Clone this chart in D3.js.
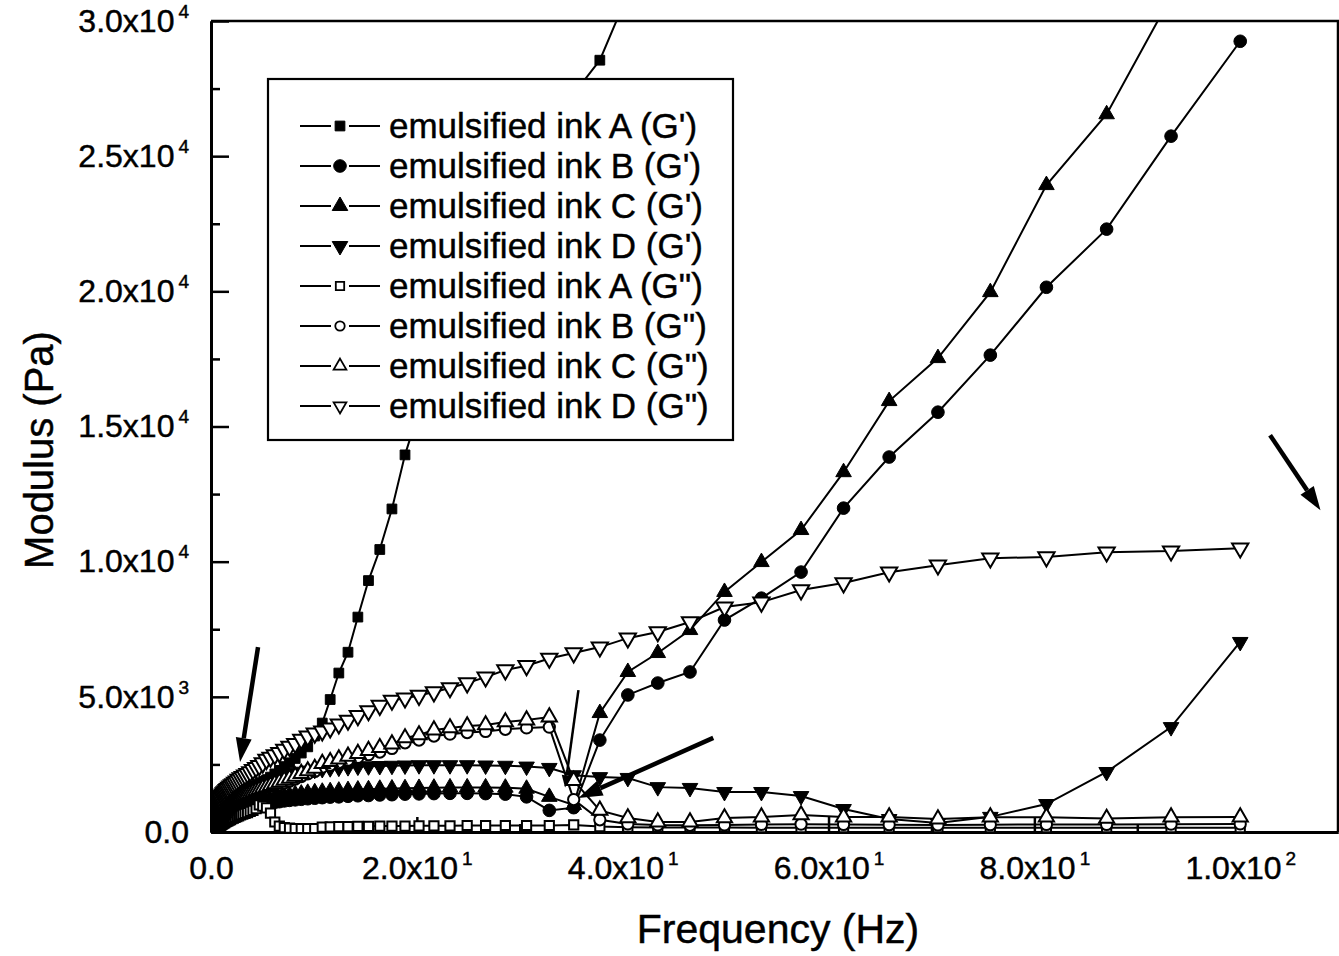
<!DOCTYPE html>
<html>
<head>
<meta charset="utf-8">
<script src="https://cdn.jsdelivr.net/npm/d3@7"></script>
<style>
  body { margin: 0; background: #fff; }
  svg text { font-family: "Liberation Sans", Arial, sans-serif; fill: #000; stroke: #000; stroke-width: 0.45px; }
</style>
</head>
<body>
<div class="chart"></div>
<script>
// sweep frequencies (Hz)
var freq = [0.443, 0.475, 0.509, 0.545, 0.585, 0.627,
    0.672, 0.720, 0.772, 0.828, 0.887, 0.951, 1.02, 1.09, 1.17, 1.25,
    1.34, 1.44, 1.54, 1.65, 1.77, 1.90, 2.04, 2.18, 2.34, 2.51,
    2.69, 2.88, 3.09, 3.31, 3.55, 3.81, 4.08, 4.38, 4.69, 5.03,
    5.39, 5.78, 6.20, 6.64, 7.12, 7.63, 8.18, 8.77, 9.40, 10.08,
    10.81, 11.58, 12.42, 13.31, 14.27, 15.30, 16.40, 17.58, 18.85, 20.21,
    21.66, 23.22, 24.89, 26.68, 28.60, 30.66, 32.87, 35.24, 37.78, 40.50,
    43.41, 46.54, 49.89, 53.48, 57.33, 61.46, 65.89, 70.63, 75.72, 81.17, 87.02, 93.28, 100];

// storage modulus G' (Pa)
var inkA_G1 = [240, 250, 260, 270, 280, 290,
    300, 320, 340, 360, 380, 400, 430, 460, 490, 520,
    550, 590, 630, 670, 720, 770, 820, 870, 930, 990,
    1050, 1110, 1180, 1250, 1330, 1410, 1500, 1600, 1700, 1810,
    1920, 2030, 2150, 2280, 2420, 2560, 2720, 2920, 3150, 3550,
    4030, 4900, 5880, 6650, 7950, 9300, 10450, 11950, 13950, 15600,
    17100, 18500, 19900, 21200, 22500, 23800, 25300, 27300, 28550, 31000,
    34000, null, null, null, null, null, null, null, null, null, null, null, null];
var inkB_G1 = [170, 180, 195, 210, 225, 235,
    250, 270, 290, 310, 330, 350, 380, 400, 420, 440,
    460, 490, 510, 540, 570, 600, 630, 660, 690, 720,
    750, 780, 810, 840, 870, 900, 930, 960, 990, 1020,
    1040, 1070, 1100, 1120, 1150, 1170, 1190, 1210, 1230, 1250,
    1270, 1290, 1300, 1320, 1340, 1350, 1370, 1380, 1400, 1410,
    1420, 1430, 1430, 1420, 1400, 1300, 800, 900, 3400, 5070,
    5510, 5920, 7840, 8650, 9615, 11980, 13870, 15530, 17640, 20150, 22300, 25740, 29250];
var inkC_G1 = [190, 200, 215, 230, 245, 260,
    280, 300, 320, 350, 370, 400, 430, 450, 480, 500,
    530, 560, 590, 620, 650, 690, 720, 760, 790, 830,
    860, 900, 930, 970, 1000, 1040, 1080, 1110, 1150, 1180,
    1220, 1250, 1280, 1310, 1340, 1370, 1400, 1420, 1450, 1470,
    1490, 1510, 1530, 1550, 1570, 1580, 1600, 1610, 1620, 1630,
    1640, 1650, 1650, 1650, 1640, 1600, 1300, 1000, 4400, 5920,
    6620, 7470, 8880, 9985, 11170, 13310, 15940, 17530, 19970, 23930, 26550, 30900, 34500];
var inkD_G1 = [330, 360, 390, 420, 450, 470,
    500, 540, 580, 620, 660, 700, 740, 780, 820, 860,
    900, 940, 980, 1020, 1070, 1110, 1160, 1200, 1250, 1300,
    1350, 1400, 1450, 1500, 1560, 1610, 1670, 1720, 1780, 1840,
    1890, 1950, 2000, 2050, 2100, 2150, 2190, 2230, 2270, 2300,
    2330, 2360, 2380, 2400, 2420, 2430, 2440, 2450, 2460, 2470,
    2470, 2470, 2470, 2460, 2450, 2420, 2370, 2100, 2030, 2000,
    1660, 1630, 1480, 1480, 1330, 850, 480, 330, 560, 1035, 2220, 3880, 7030];

// loss modulus G'' (Pa)
var inkA_G2 = [90, 100, 110, 120, 130, 140,
    150, 170, 190, 210, 230, 250, 270, 290, 310, 330,
    350, 370, 390, 410, 440, 460, 490, 510, 540, 570,
    600, 630, 660, 690, 720, 760, 800, 860, 1000, 960,
    890, 700, 370, 220, 160, 140, 130, 130, 130, 130,
    180, 190, 200, 200, 210, 210, 220, 220, 220, 230,
    230, 230, 240, 240, 240, 240, 240, 260, 200, 180,
    170, 170, 170, 160, 160, 160, 160, 160, 160, 160, 160, 160, 160];
var inkB_G2 = [320, 340, 360, 380, 400, 415,
    430, 450, 480, 510, 540, 570, 610, 640, 680, 720,
    760, 800, 830, 870, 910, 950, 990, 1030, 1060, 1100,
    1140, 1180, 1220, 1260, 1300, 1340, 1390, 1440, 1490, 1530,
    1570, 1630, 1690, 1750, 1810, 1880, 1960, 2050, 2150, 2240,
    2400, 2470, 2570, 2660, 2760, 2860, 2960, 3090, 3300, 3400,
    3550, 3620, 3680, 3720, 3800, 3850, 3880, 1200, 450, 300,
    260, 250, 260, 280, 290, 280, 270, 260, 270, 280, 280, 290, 300];
var inkC_G2 = [340, 360, 380, 400, 420, 435,
    450, 480, 510, 540, 570, 600, 640, 680, 720, 760,
    800, 840, 880, 920, 960, 1000, 1040, 1080, 1120, 1160,
    1200, 1250, 1290, 1330, 1380, 1420, 1470, 1520, 1570, 1620,
    1660, 1720, 1780, 1840, 1910, 1980, 2060, 2160, 2260, 2350,
    2530, 2600, 2700, 2800, 2900, 3010, 3120, 3250, 3480, 3590,
    3770, 3850, 3920, 3960, 4070, 4140, 4250, 1900, 800, 520,
    370, 370, 520, 555, 630, 555, 555, 480, 550, 550, 500, 550, 555];
var inkD_G2 = [850, 880, 910, 950, 980, 1010,
    1050, 1090, 1130, 1170, 1210, 1260, 1320, 1360, 1400, 1440,
    1480, 1520, 1560, 1600, 1650, 1690, 1740, 1780, 1830, 1880,
    1940, 2000, 2050, 2100, 2160, 2220, 2300, 2380, 2450, 2550,
    2680, 2760, 2850, 2930, 3050, 3160, 3270, 3420, 3540, 3650,
    3730, 3840, 3990, 4130, 4300, 4480, 4680, 4870, 4950, 5050,
    5180, 5330, 5510, 5730, 5990, 6150, 6420, 6620, 6840, 7170,
    7400, 7770, 8320, 8500, 8950, 9210, 9610, 9870, 10130, 10170, 10350, 10390, 10500];

var seriesNames = ["emulsified ink A (G')", "emulsified ink B (G')", "emulsified ink C (G')", "emulsified ink D (G')",
    "emulsified ink A (G\")", "emulsified ink B (G\")", "emulsified ink C (G\")", "emulsified ink D (G\")"];

var xTicks = [0, 20, 40, 60, 80, 100];
var xMinorTicks = [10, 30, 50, 70, 90];
var yTicks = [0, 5000, 10000, 15000, 20000, 25000, 30000];
var yMinorTicks = [2500, 7500, 12500, 17500, 22500, 27500];

// arrows on the original figure, data units [x1, y1, x2, y2]
var arrows = [[4.57, 6840, 2.82, 2590], [35.7, 5250, 34.4, 1650], [48.8, 3480, 35.7, 1260], [102.9, 14680, 107.8, 11900]];

var width = 1339, height = 956;
var margin = {top: 21, right: 1, bottom: 124, left: 211};

var svg = d3.select('.chart')
    .append('svg')
        .attr('width', width)
        .attr('height', height)
        .style('display', 'block');

var x = d3.scaleLinear()
    .domain([0, 109.5])
    .range([margin.left, width - margin.right]);

var y = d3.scaleLinear()
    .domain([0, 30000])
    .range([height - margin.bottom, margin.top]);

function sciParts(v) {
    if (v === 0) return ["0.0", ""];
    var e = Math.floor(Math.log10(v) + 1e-9);
    return [(v / Math.pow(10, e)).toFixed(1) + "x10", String(e)];
}

function superscriptLabels(sel) {
    sel.selectAll('.tick text').each(function(d) {
        var t = d3.select(this), p = sciParts(d);
        t.text(null);
        t.append('tspan').text(p[0]);
        if (p[1]) t.append('tspan').attr('dx', 4).attr('dy', -14).attr('font-size', 19).text(p[1]);
    });
}

// axes
var yAxis = svg.append('g')
    .attr('transform', 'translate(' + margin.left + ',0)')
    .call(d3.axisLeft(y).tickValues(yTicks).tickSize(-18).tickSizeOuter(0).tickPadding(22));
svg.append('g')
    .attr('transform', 'translate(' + margin.left + ',0)')
    .call(d3.axisLeft(y).tickValues(yMinorTicks).tickSize(-9).tickSizeOuter(0).tickFormat(''));

var xAxis = svg.append('g')
    .attr('transform', 'translate(0,' + (height - margin.bottom) + ')')
    .call(d3.axisBottom(x).tickValues(xTicks).tickSize(-15).tickSizeOuter(0).tickPadding(24));
svg.append('g')
    .attr('transform', 'translate(0,' + (height - margin.bottom) + ')')
    .call(d3.axisBottom(x).tickValues(xMinorTicks).tickSize(-8).tickSizeOuter(0).tickFormat(''));

svg.selectAll('.domain').attr('stroke-width', 3);
svg.selectAll('.tick line').attr('stroke-width', 2.5);
svg.selectAll('.tick text').attr('font-size', 32).attr('font-family', null);
superscriptLabels(yAxis);
superscriptLabels(xAxis);

// top and right frame
svg.append('path')
    .attr('d', 'M' + margin.left + ',' + margin.top + 'H' + (width - margin.right) + 'V' + (height - margin.bottom))
    .attr('fill', 'none')
    .attr('stroke', '#000')
    .attr('stroke-width', 2.5);

svg.append('text')
    .attr('x', 778)
    .attr('y', 943)
    .attr('text-anchor', 'middle')
    .attr('font-size', 41)
    .text('Frequency (Hz)');

svg.append('text')
    .attr('transform', 'translate(53,450) rotate(-90)')
    .attr('text-anchor', 'middle')
    .attr('font-size', 40)
    .text('Modulus (Pa)');

// series
var symbols = [
    {type: d3.symbolSquare, size: 95, rot: 0, open: false},
    {type: d3.symbolCircle, size: 125, rot: 0, open: false},
    {type: d3.symbolTriangle, size: 105, rot: 0, open: false},
    {type: d3.symbolTriangle, size: 105, rot: 180, open: false},
    {type: d3.symbolSquare, size: 85, rot: 0, open: true},
    {type: d3.symbolCircle, size: 100, rot: 0, open: true},
    {type: d3.symbolTriangle, size: 100, rot: 0, open: true},
    {type: d3.symbolTriangle, size: 115, rot: 180, open: true}
];
var seriesValues = [inkA_G1, inkB_G1, inkC_G1, inkD_G1, inkA_G2, inkB_G2, inkC_G2, inkD_G2];

svg.append('clipPath')
    .attr('id', 'plot-clip')
    .append('rect')
        .attr('x', margin.left)
        .attr('y', margin.top)
        .attr('width', width - margin.right - margin.left)
        .attr('height', height - margin.bottom - margin.top);

var plot = svg.append('g').attr('clip-path', 'url(#plot-clip)');

var line = d3.line()
    .defined(function(d) { return d[1] !== null; })
    .x(function(d) { return x(d[0]); })
    .y(function(d) { return y(d[1]); });

seriesValues.forEach(function(vals, i) {
    var pts = freq.map(function(f, j) { return [f, vals[j]]; });
    var s = symbols[i];
    var g = plot.append('g');
    g.append('path')
        .datum(pts)
        .attr('d', line)
        .attr('fill', 'none')
        .attr('stroke', '#000')
        .attr('stroke-width', 2);
    g.selectAll('path.pt')
        .data(pts.filter(function(d) { return d[1] !== null; }))
        .enter()
        .append('path')
            .attr('class', 'pt')
            .attr('d', d3.symbol().type(s.type).size(s.size))
            .attr('transform', function(d) { return 'translate(' + x(d[0]) + ',' + y(d[1]) + ') rotate(' + s.rot + ')'; })
            .attr('fill', s.open ? '#fff' : '#000')
            .attr('stroke', '#000')
            .attr('stroke-width', s.open ? 2 : 1);
});

// legend
var legend = svg.append('g');
legend.append('rect')
    .attr('x', 268).attr('y', 79)
    .attr('width', 465).attr('height', 361)
    .attr('fill', '#fff')
    .attr('stroke', '#000')
    .attr('stroke-width', 2.2);

var rows = legend.selectAll('g.row')
    .data(seriesNames)
    .enter()
    .append('g')
        .attr('class', 'row')
        .attr('transform', function(d, i) { return 'translate(0,' + (126 + i * 40) + ')'; });

rows.append('path')
    .attr('d', 'M300,0H331M349,0H380')
    .attr('stroke', '#000')
    .attr('stroke-width', 2);

rows.append('path')
    .attr('d', function(d, i) { return d3.symbol().type(symbols[i].type).size(symbols[i].open ? 70 : symbols[i].size)(); })
    .attr('transform', function(d, i) { return 'translate(340,0) rotate(' + symbols[i].rot + ')'; })
    .attr('fill', function(d, i) { return symbols[i].open ? '#fff' : '#000'; })
    .attr('stroke', '#000')
    .attr('stroke-width', function(d, i) { return symbols[i].open ? 1.8 : 1; });

rows.append('text')
    .attr('x', 389)
    .attr('y', 12)
    .attr('font-size', 35)
    .text(function(d) { return d; });

// arrows
arrows.forEach(function(a, i) {
    var x1 = x(a[0]), y1 = y(a[1]), x2 = x(a[2]), y2 = y(a[3]);
    var ang = Math.atan2(y2 - y1, x2 - x1);
    var thin = (i === 1);
    var hl = thin ? 12 : 24, hw = thin ? 5 : 8;
    var bx = x2 - hl * Math.cos(ang), by = y2 - hl * Math.sin(ang);
    svg.append('line')
        .attr('x1', x1).attr('y1', y1).attr('x2', bx).attr('y2', by)
        .attr('stroke', '#000')
        .attr('stroke-width', thin ? 2.5 : 4.5);
    svg.append('path')
        .attr('d', 'M' + x2 + ',' + y2 +
            'L' + (bx + hw * Math.sin(ang)) + ',' + (by - hw * Math.cos(ang)) +
            'L' + (bx - hw * Math.sin(ang)) + ',' + (by + hw * Math.cos(ang)) + 'Z')
        .attr('fill', '#000');
});
</script>
</body>
</html>
